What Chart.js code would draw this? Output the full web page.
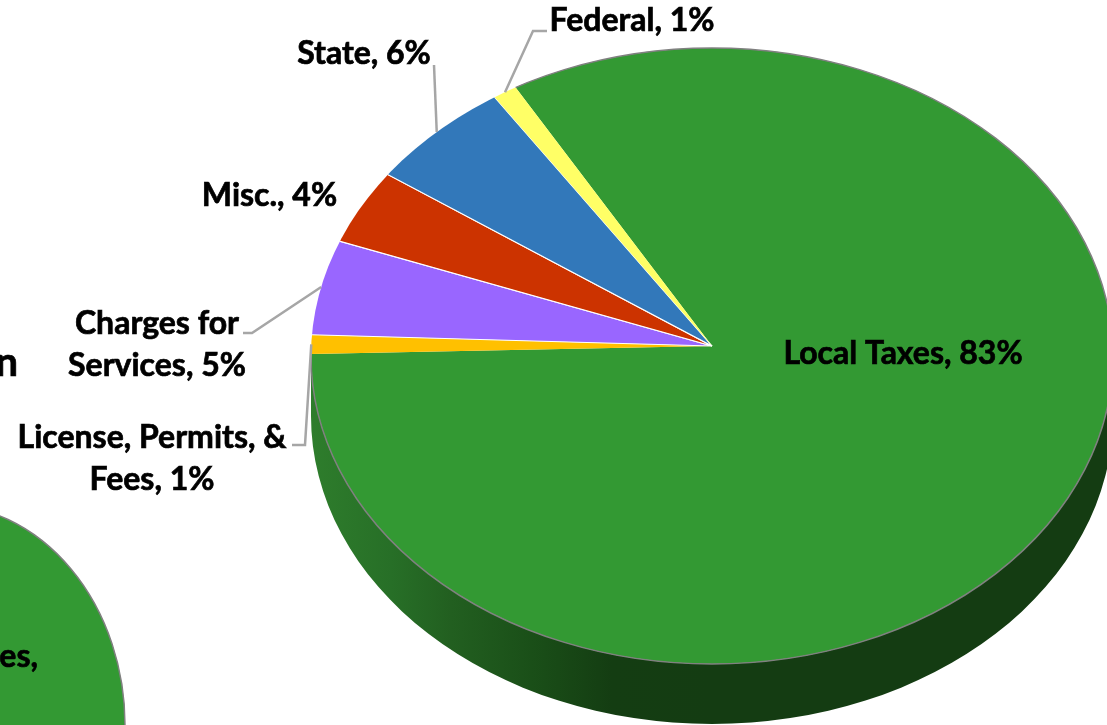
<!DOCTYPE html>
<html>
<head>
<meta charset="utf-8">
<title>Revenue sources</title>
<script src="https://cdn.jsdelivr.net/npm/chart.js@4/dist/chart.umd.js"></script>
<style>
  html, body { margin: 0; height: 100%; background: #fff; overflow: hidden; }
  canvas { position: absolute; left: 0; top: 0; }
</style>
</head>
<body>
<canvas id="sidePie" width="1107" height="725"></canvas>
<canvas id="mainPie" width="1107" height="725"></canvas>
<script>
const categories = ["Local Taxes", "License, Permits, & Fees", "Charges for Services", "Misc.", "State", "Federal"];
const shares = [83, 1, 5, 4, 6, 1];
const sliceColors = ["#339933", "#FFC000", "#9966FF", "#CC3300", "#3278BA", "#FFFF66"];
const sliceBorders = [0, 0, 1, 1, 1, 0];

// The neighbouring pie only shows its biggest slice here
const sideCategories = ["Local Taxes"];
const sideShares = [100];

const labelFont = "bold 32px Lato";
const headingFont = "bold 40px Lato";
const lineHeight = 42;

// Where each label sits and how it wraps; leader holds the line's fixed points,
// the end on the rim comes from the slice angle
const labelLayout = [
  { x: 903, y: 354 },
  { x: 152, y: 438, wrap: "License, Permits, &|Fees", leader: [[305, 445], [292, 445]] },
  { x: 157, y: 324, wrap: "Charges for|Services", leader: [[252, 333], [243, 333]] },
  { x: 269.5, y: 196 },
  { x: 364, y: 54, leader: [[434, 65]] },
  { x: 632, y: 21, leader: [[533, 31], [547, 31]] },
];

const mainPie = {
  apex: { x: 712, y: 346 },
  rim: { x: 712, y: 356, rx: 401, ry: 308 },
  scaleX: 1.3,
  scaleY: 1.0,
  depth: 60,
};

const sidePie = {
  apex: { x: -60, y: 725 },
  rim: { x: -60, y: 725, rx: 185, ry: 221 },
  scaleX: 1.0,
  scaleY: 1.0,
  depth: 0,
};

function rimPath(ctx, rim, yOffset = 0) {
  ctx.beginPath();
  ctx.ellipse(rim.x, rim.y + yOffset, rim.rx, rim.ry, 0, 0, Math.PI * 2);
}

// Where a ray from the apex at a slice angle leaves the ellipse
function rimPoint(pie, angle) {
  const { apex, rim, scaleX, scaleY } = pie;
  const dx = Math.cos(angle) * scaleX;
  const dy = Math.sin(angle) * scaleY;
  const ox = apex.x - rim.x;
  const oy = apex.y - rim.y;
  const a = (dx * dx) / (rim.rx * rim.rx) + (dy * dy) / (rim.ry * rim.ry);
  const b = 2 * ((ox * dx) / (rim.rx * rim.rx) + (oy * dy) / (rim.ry * rim.ry));
  const c = (ox * ox) / (rim.rx * rim.rx) + (oy * oy) / (rim.ry * rim.ry) - 1;
  const t = (-b + Math.sqrt(b * b - 4 * a * c)) / (2 * a);
  return { x: apex.x + t * dx, y: apex.y + t * dy };
}

function drawWall(ctx, pie) {
  const { rim, depth } = pie;
  if (!depth) return;
  const shade = ctx.createLinearGradient(rim.x - rim.rx, 0, rim.x, 0);
  shade.addColorStop(0, "#2e7d2c");
  shade.addColorStop(0.2, "#276f27");
  shade.addColorStop(0.35, "#225f20");
  shade.addColorStop(0.55, "#1a4f18");
  shade.addColorStop(0.75, "#143d12");
  shade.addColorStop(1, "#143c12");
  ctx.fillStyle = shade;
  ctx.beginPath();
  ctx.ellipse(rim.x, rim.y, rim.rx, rim.ry, 0, Math.PI, 0, true);
  ctx.ellipse(rim.x, rim.y + depth, rim.rx, rim.ry, 0, 0, Math.PI);
  ctx.closePath();
  ctx.fill();
}

// Squash the pie about its apex and trim it to the rim ellipse
const tiltedPie = {
  id: "tiltedPie",
  beforeDatasetsDraw(chart, args, pie) {
    const { ctx } = chart;
    const { x, y } = chart.getDatasetMeta(0).data[0];
    drawWall(ctx, pie);
    ctx.save();
    rimPath(ctx, pie.rim);
    ctx.clip();
    ctx.translate(pie.apex.x, pie.apex.y);
    ctx.scale(pie.scaleX, pie.scaleY);
    ctx.translate(-x, -y);
  },
  afterDatasetsDraw(chart, args, pie) {
    const { ctx } = chart;
    const first = chart.getDatasetMeta(0).data[0];
    ctx.restore();

    // Grey edge runs along the biggest slice only
    ctx.save();
    ctx.beginPath();
    ctx.moveTo(pie.apex.x, pie.apex.y);
    for (let step = 0; step <= 64; step++) {
      const angle = first.startAngle + ((first.endAngle - first.startAngle) * step) / 64;
      const p = rimPoint(pie, angle);
      ctx.lineTo(p.x + (p.x - pie.apex.x) * 0.1, p.y + (p.y - pie.apex.y) * 0.1);
    }
    ctx.closePath();
    ctx.clip();
    rimPath(ctx, pie.rim);
    ctx.strokeStyle = "#808080";
    ctx.lineWidth = 1.5;
    ctx.stroke();
    ctx.restore();
  },
};

// Bold text with a hairline stroke so it sits a little heavier
function heavyText(ctx, text, x, y) {
  ctx.fillText(text, x, y);
  ctx.strokeText(text, x, y);
}

// Leader lines and data labels for the main pie
const sliceLabels = {
  id: "sliceLabels",
  afterDraw(chart) {
    const { ctx } = chart;
    const arcs = chart.getDatasetMeta(0).data;
    ctx.save();
    ctx.strokeStyle = "#A6A6A6";
    ctx.lineWidth = 2.5;
    labelLayout.forEach((place, i) => {
      if (!place.leader) return;
      const mid = (arcs[i].startAngle + arcs[i].endAngle) / 2;
      const from = rimPoint(mainPie, mid);
      ctx.beginPath();
      ctx.moveTo(from.x, from.y);
      place.leader.forEach(([x, y]) => ctx.lineTo(x, y));
      ctx.stroke();
    });

    ctx.font = labelFont;
    ctx.fillStyle = "#000";
    ctx.strokeStyle = "#000";
    ctx.lineWidth = 0.7;
    ctx.textAlign = "center";
    ctx.textBaseline = "middle";
    labelLayout.forEach((place, i) => {
      const rows = (place.wrap || categories[i]).split("|");
      rows[rows.length - 1] += `, ${shares[i]}%`;
      rows.forEach((line, row) => heavyText(ctx, line, place.x, place.y + row * lineHeight));
    });

    // Cut-off text belonging to the neighbouring pie and its heading
    ctx.textAlign = "right";
    heavyText(ctx, "es,", 38, 657);
    ctx.font = headingFont;
    heavyText(ctx, "n", 18, 363);
    ctx.restore();
  },
};

function pieChart(id, labels, data, colors, borders, pie, plugins) {
  return new Chart(document.getElementById(id), {
    type: "pie",
    data: {
      labels,
      datasets: [{
        data,
        backgroundColor: colors,
        borderColor: "#fff",
        borderWidth: borders,
        clip: false,
      }],
    },
    options: {
      responsive: false,
      animation: false,
      events: [],
      rotation: -30.3,
      plugins: { legend: { display: false }, tooltip: { enabled: false }, tiltedPie: pie },
    },
    plugins,
  });
}

pieChart("sidePie", sideCategories, sideShares, ["#339933"], [0], sidePie, [tiltedPie]);
pieChart("mainPie", categories, shares, sliceColors, sliceBorders, mainPie, [tiltedPie, sliceLabels]);
</script>
</body>
</html>
